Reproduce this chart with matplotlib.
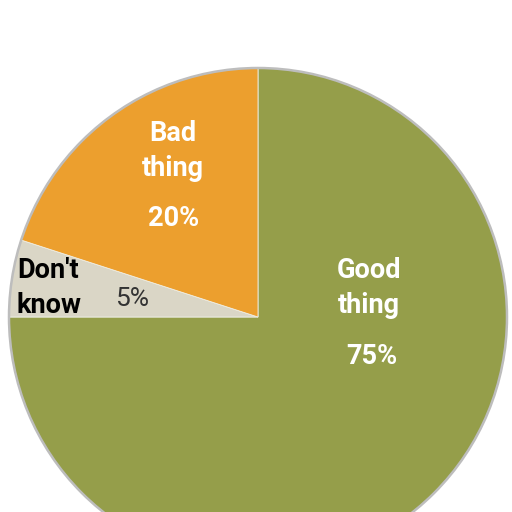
import matplotlib
matplotlib.use("Agg")
import matplotlib.pyplot as plt
from matplotlib.patches import Circle

labels = ["Good\nthing", "Don't\nknow", "Bad\nthing"]
values = [75, 5, 20]
pct_labels = ["75%", "5%", "20%"]
colors = ["#959E4A", "#DAD6C6", "#EC9F2E"]

fig = plt.figure(figsize=(5.12, 5.12), dpi=100)
ax = fig.add_axes([0, 0, 1, 1])

cx, cy, r = 258, 512 - 317, 249
ax.pie(values, colors=colors, startangle=90, counterclock=False,
       center=(cx, cy), radius=r, frame=True,
       wedgeprops=dict(edgecolor="#EFEFE6", linewidth=0.6))
ax.add_patch(Circle((cx, cy), r, fill=False, edgecolor="#BDBDBD", linewidth=1.8))
ax.set_xlim(0, 512)
ax.set_ylim(0, 512)
ax.set_aspect("equal")
ax.axis("off")

fam = ["Roboto", "DejaVu Sans"]
fs = 19.5
ls = 1.35
# Good thing
ax.text(369, 512 - 288, labels[0], ha="center", va="center", color="white",
        fontsize=fs, fontweight="bold", family=fam, linespacing=ls)
ax.text(372, 512 - 357, pct_labels[0], ha="center", va="center", color="white",
        fontsize=fs, fontweight="bold", family=fam)
# Bad thing
ax.text(173, 512 - 151, labels[2], ha="center", va="center", color="white",
        fontsize=fs, fontweight="bold", family=fam, linespacing=ls)
ax.text(174, 512 - 219, pct_labels[2], ha="center", va="center", color="white",
        fontsize=fs, fontweight="bold", family=fam)
# Don't know
ax.text(17, 512 - 288, labels[1], ha="left", va="center", color="black",
        fontsize=fs, fontweight="bold", family=fam, linespacing=ls)
ax.text(115, 512 - 299, pct_labels[1], ha="left", va="center", color="#333333",
        fontsize=19, family=fam)

fig.savefig("out.png", dpi=100)
